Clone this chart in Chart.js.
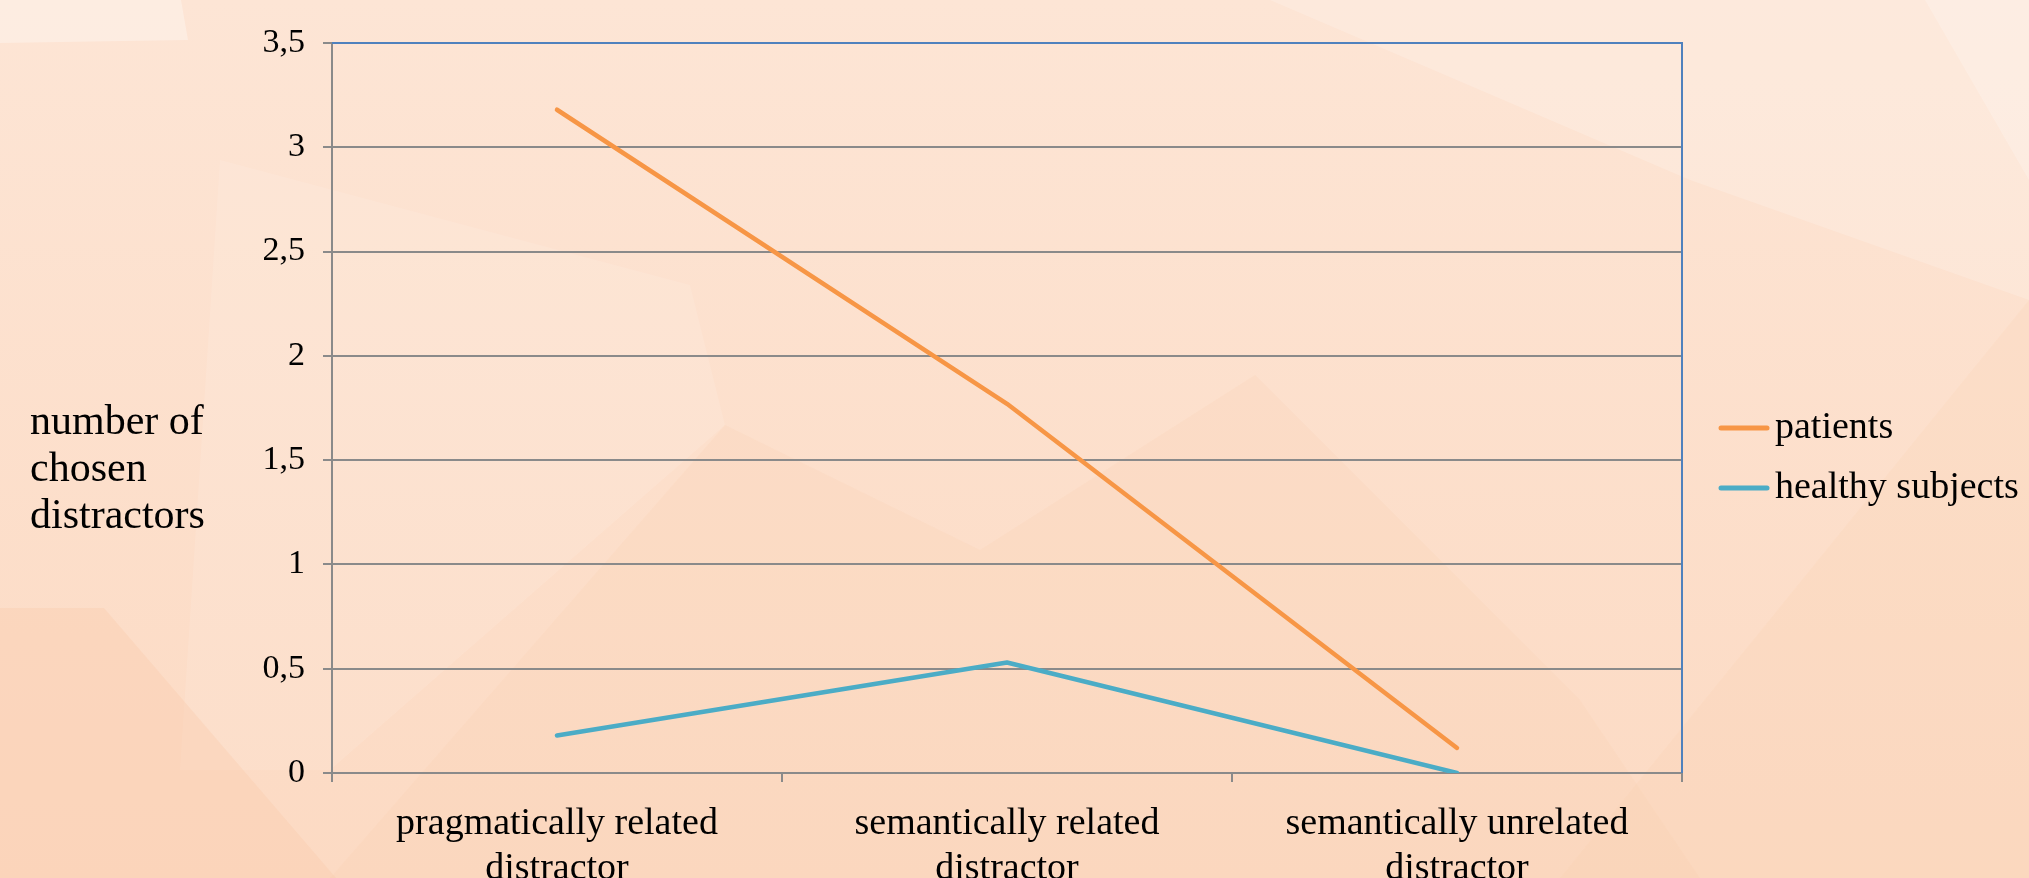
<!DOCTYPE html>
<html>
<head>
<meta charset="utf-8">
<script src="https://cdn.jsdelivr.net/npm/chart.js@4.4.0/dist/chart.umd.min.js"></script>
<style>
  html, body { margin: 0; padding: 0; overflow: hidden; background: #fddfca; }
  #wrap { position: relative; width: 2029px; height: 878px; }
</style>
</head>
<body>
<div id="wrap"><canvas id="chart" width="2029" height="878"></canvas></div>
<script>
const categories = [
  ['pragmatically related', 'distractor'],
  ['semantically related', 'distractor'],
  ['semantically unrelated', 'distractor']
];
const patients = [3.18, 1.77, 0.12];
const healthySubjects = [0.18, 0.53, 0];
const seriesNames = ['patients', 'healthy subjects'];
const seriesColors = ['#f79646', '#4bacc6'];
const yTickLabels = ['0', '0,5', '1', '1,5', '2', '2,5', '3', '3,5'];
const yTitle = ['number of', 'chosen', 'distractors'];

const FONT = '"Liberation Serif", "Times New Roman", serif';
const GRID = '#8a8a8a';

// soft peach backdrop, roughly like the slide
const backdrop = {
  id: 'backdrop',
  beforeDraw(chart) {
    const ctx = chart.ctx, w = chart.width, h = chart.height;
    ctx.save();
    const g = ctx.createLinearGradient(0, 0, 0, h);
    g.addColorStop(0, '#fde5d5');
    g.addColorStop(1, '#fcdac3');
    ctx.fillStyle = g;
    ctx.fillRect(0, 0, w, h);
    const poly = (pts, col) => {
      ctx.beginPath();
      pts.forEach((p, i) => i ? ctx.lineTo(p[0], p[1]) : ctx.moveTo(p[0], p[1]));
      ctx.closePath();
      ctx.fillStyle = col;
      ctx.fill();
    };
    poly([[0, 0], [181, 0], [188, 40], [0, 43]], 'rgba(255,255,255,0.3)');
    poly([[1270, 0], [2029, 0], [2029, 300], [1690, 180]], 'rgba(255,255,255,0.18)');
    poly([[1925, 0], [2029, 0], [2029, 180]], 'rgba(255,255,255,0.2)');
    poly([[220, 160], [690, 285], [725, 425], [330, 770], [180, 770]], 'rgba(255,255,255,0.1)');
    poly([[725, 425], [980, 550], [1255, 375], [1580, 700], [1700, 878], [330, 878]], 'rgba(250,205,170,0.18)');
    poly([[0, 608], [104, 608], [336, 878], [0, 878]], 'rgba(250,200,165,0.3)');
    poly([[1560, 878], [2029, 300], [2029, 878]], 'rgba(250,205,170,0.16)');
    ctx.restore();
  }
};

// blue frame on top and right of plot area
const frame = {
  id: 'frame',
  beforeDatasetsDraw(chart) {
    const a = chart.chartArea, ctx = chart.ctx;
    ctx.save();
    ctx.strokeStyle = '#4f81bd';
    ctx.lineWidth = 2;
    ctx.beginPath();
    ctx.moveTo(a.left, a.top);
    ctx.lineTo(a.right, a.top);
    ctx.lineTo(a.right, a.bottom);
    ctx.stroke();
    ctx.restore();
  }
};

// horizontal y title and line legend
const extras = {
  id: 'extras',
  afterDraw(chart) {
    const ctx = chart.ctx, a = chart.chartArea;
    ctx.save();
    ctx.fillStyle = '#000';
    ctx.textBaseline = 'middle';
    ctx.textAlign = 'left';
    ctx.font = '42px ' + FONT;
    yTitle.forEach((t, i) => ctx.fillText(t, 30, 423 + i * 47));

    ctx.font = '38px ' + FONT;
    chart.data.datasets.forEach((ds, i) => {
      const y = 428 + i * 60;
      const x = a.right + 39;
      ctx.strokeStyle = ds.borderColor;
      ctx.lineWidth = 5;
      ctx.lineCap = 'round';
      ctx.beginPath();
      ctx.moveTo(x, y);
      ctx.lineTo(x + 46, y);
      ctx.stroke();
      ctx.fillText(ds.label, x + 54, y);
    });
    ctx.restore();
  }
};

new Chart(document.getElementById('chart'), {
  type: 'line',
  data: {
    labels: categories,
    datasets: [
      { label: seriesNames[0], data: patients, borderColor: seriesColors[0] },
      { label: seriesNames[1], data: healthySubjects, borderColor: seriesColors[1] }
    ]
  },
  options: {
    responsive: false,
    animation: false,
    devicePixelRatio: 1,
    layout: { padding: { top: 43, right: 347, left: 0, bottom: 0 } },
    elements: {
      line: { borderWidth: 4.5, tension: 0, borderCapStyle: 'round', borderJoinStyle: 'round', fill: false },
      point: { radius: 0, hoverRadius: 0 }
    },
    plugins: {
      legend: { display: false },
      tooltip: { enabled: false }
    },
    scales: {
      x: {
        offset: true,
        grid: { offset: true, drawOnChartArea: false, drawTicks: true, tickLength: 9, color: GRID, lineWidth: 2 },
        border: { color: GRID, width: 2 },
        ticks: { color: '#000', font: { family: FONT, size: 38, lineHeight: 1.17 }, padding: 20, maxRotation: 0, autoSkip: false },
        afterFit(s) { s.height = 105; }
      },
      y: {
        min: 0,
        max: 3.5,
        grid: { color: GRID, lineWidth: 2, tickLength: 9 },
        border: { color: GRID, width: 2 },
        ticks: {
          stepSize: 0.5,
          color: '#000',
          font: { family: FONT, size: 34 },
          padding: 18,
          callback: (v, i) => yTickLabels[i]
        },
        afterFit(s) { s.width = 332; }
      }
    }
  },
  plugins: [backdrop, frame, extras]
});
</script>
</body>
</html>
